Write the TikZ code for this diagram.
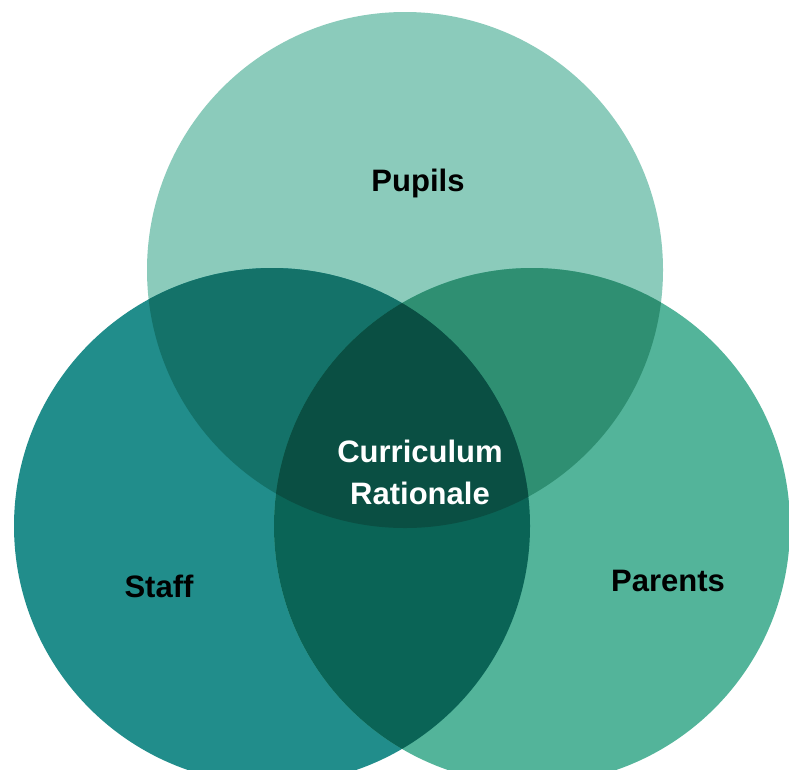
\documentclass[tikz,border=0pt]{standalone}
\usepackage{fontspec}
\setmainfont{Liberation Sans}
\definecolor{pupilsFill}{HTML}{8BCBBB}
\definecolor{staffFill}{HTML}{218D8B}
\definecolor{parentsFill}{HTML}{53B49A}
\definecolor{pupilsStaff}{HTML}{147269}
\definecolor{pupilsParents}{HTML}{2F8F72}
\definecolor{staffParents}{HTML}{0A6456}
\definecolor{allThree}{HTML}{0A4F43}
\newcommand{\circR}[0]{258pt}

\begin{document}
\begin{tikzpicture}[x=1pt, y=-1pt]
  \tikzset{group label/.style={font=\bfseries\fontsize{31}{42}\selectfont, align=center, inner sep=0pt}}
  \useasboundingbox (0,0) rectangle (789,769);
  \clip (0,0) rectangle (789,769);
  \coordinate (pupils) at (405,270);
  \coordinate (staff) at (272,526);
  \coordinate (parents) at (532,526);
  % single sets
  \fill[pupilsFill] (pupils) circle (\circR);
  \fill[staffFill] (staff) circle (\circR);
  \fill[parentsFill] (parents) circle (\circR);
  % overlaps
  \begin{scope}
    \clip (pupils) circle (\circR);
    \fill[pupilsStaff] (staff) circle (\circR);
    \fill[pupilsParents] (parents) circle (\circR);
  \end{scope}
  \begin{scope}
    \clip (staff) circle (\circR);
    \fill[staffParents] (parents) circle (\circR);
    \clip (parents) circle (\circR);
    \fill[allThree] (pupils) circle (\circR);
  \end{scope}
  % labels
  \node[group label] (pupils-label) at (418,183) {Pupils};
  \node[group label] (staff-label) at (159,586) {Staff};
  \node[group label] (parents-label) at (668,581) {Parents};
  \node[group label, white] (centre-label) at (420,472) {Curriculum\\Rationale};
\end{tikzpicture}
\end{document}
